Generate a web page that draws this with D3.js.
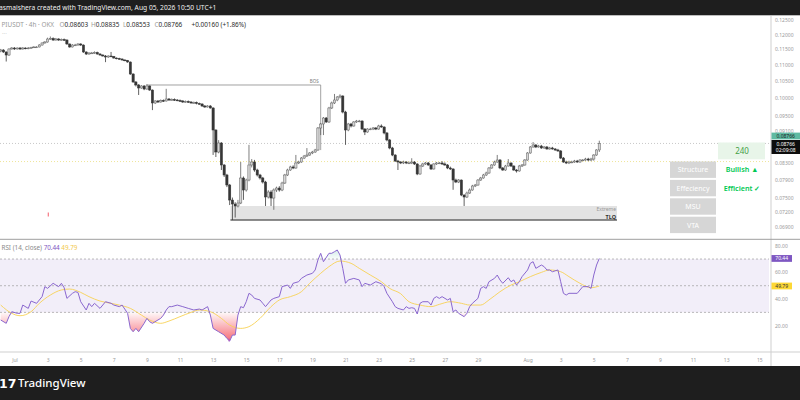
<!DOCTYPE html>
<html><head><meta charset="utf-8">
<script src="https://cdn.jsdelivr.net/npm/d3@7"></script>
<style>
body{margin:0;background:#fff;overflow:hidden}
svg{display:block;font-family:"Noto Sans",sans-serif}
</style></head><body>
<svg id="chart" width="800" height="400"></svg>
<script>
// PIUSDT 4h candles, first one Jun 30 04:00, open of each = previous close
const firstOpen = 0.1144;
const closes = [
0.11475,0.11409,0.11310,0.11508,0.11541,0.11508,0.11541,0.11508,0.11541,0.11525,
0.11541,0.11558,0.11575,0.11575,0.11641,0.11709,0.11742,0.11844,0.11862,0.11810,
0.11844,0.11810,0.11827,0.11810,0.11675,0.11575,0.11641,0.11641,0.11675,0.11641,
0.11409,0.11343,0.11376,0.11376,0.11392,0.11343,0.11310,0.11278,0.11245,0.11278,
0.11262,0.11213,0.11197,0.11181,0.11149,0.11133,0.11085,0.10708,0.10464,0.10374,
0.10285,0.10344,0.10255,0.10344,0.10225,0.09850,0.09907,0.09878,0.09921,0.09907,
0.09964,0.09935,0.09950,0.09935,0.09921,0.09907,0.09878,0.09892,0.09878,0.09850,
0.09864,0.09836,0.09821,0.09765,0.09737,0.09765,0.09709,0.09112,0.08552,0.08777,
0.08238,0.08004,0.07776,0.07447,0.07362,0.07320,0.07383,0.07935,0.07665,0.07889,
0.08238,0.08309,0.08120,0.08004,0.07935,0.07844,0.07512,0.07621,0.07490,0.07665,
0.07709,0.07665,0.07821,0.08004,0.08120,0.08191,0.08167,0.08286,0.08309,0.08405,
0.08454,0.08478,0.08528,0.08552,0.08602,0.09165,0.09271,0.09432,0.09325,0.09709,
0.09850,0.09935,0.10021,0.10050,0.09597,0.09112,0.09271,0.09218,0.09325,0.09351,
0.09351,0.09138,0.09060,0.09138,0.09138,0.09165,0.09138,0.09218,0.09191,0.09034,
0.08853,0.08652,0.08478,0.08333,0.08309,0.08286,0.08309,0.08286,0.08286,0.08309,
0.08262,0.08027,0.08214,0.08262,0.08286,0.08238,0.08144,0.08262,0.08286,0.08286,
0.08262,0.08238,0.08167,0.08144,0.07889,0.07844,0.07889,0.07555,0.07512,0.07599,
0.07665,0.07754,0.07776,0.07889,0.07935,0.08004,0.08050,0.08167,0.08238,0.08309,
0.08357,0.08167,0.08120,0.08214,0.08286,0.08214,0.08120,0.08097,0.08214,0.08238,
0.08357,0.08528,0.08677,0.08726,0.08677,0.08701,0.08652,0.08677,0.08627,0.08652,
0.08627,0.08602,0.08577,0.08405,0.08309,0.08286,0.08309,0.08309,0.08333,0.08309,
0.08357,0.08357,0.08381,0.08357,0.08381,0.08478,0.08603,0.08766];
const highs = [
.1151,.1150,.1143,.1153,.1157,.1157,.1156,.1157,.1157,.1156,
.1157,.1158,.1160,.1160,.1167,.1173,.1177,.1189,.1193,.1190,
.1188,.1187,.1186,.1186,.1183,.1169,.1167,.1168,.1170,.1170,
.1166,.1143,.1140,.1141,.1143,.1142,.1137,.1133,.1131,.1130,
.1141,.1128,.1123,.1122,.1120,.1117,.1115,.1110,.1073,.1049,
.1040,.1037,.1037,.1040,.1036,.1024,.0993,.0993,.0995,.0995,
.1026,.0999,.0998,.0998,.0996,.0995,.0993,.0992,.0992,.0990,
.0989,.0989,.0986,.0984,.0979,.0979,.0979,.0973,.0913,.0885,
.0880,.0826,.0803,.0780,.0750,.0740,.0745,.0831,.0797,.0792,
.0873,.0838,.0836,.0815,.0803,.0796,.0787,.0766,.0766,.0770,
.0774,.0775,.0785,.0803,.0815,.0822,.0823,.0848,.0834,.0843,
.0848,.0865,.0855,.0858,.0863,.0919,.0930,.0946,.0946,.0974,
.0989,.1011,.1005,.1010,.1007,.0963,.0930,.0930,.0935,.0938,
.0938,.0937,.0916,.0916,.0917,.0919,.0919,.0925,.0926,.0921,
.0906,.0888,.0868,.0850,.0836,.0833,.0834,.0833,.0832,.0840,
.0833,.0828,.0824,.0829,.0831,.0831,.0826,.0828,.0831,.0831,
.0833,.0830,.0826,.0820,.0816,.0792,.0791,.0790,.0757,.0763,
.0770,.0778,.0780,.0791,.0796,.0803,.0808,.0819,.0826,.0834,
.0848,.0838,.0819,.0824,.0838,.0830,.0823,.0814,.0824,.0826,
.0838,.0855,.0870,.0880,.0875,.0873,.0873,.0870,.0870,.0868,
.0868,.0865,.0863,.0860,.0843,.0834,.0834,.0834,.0836,.0836,
.0838,.0838,.0841,.0841,.0841,.0850,.0862,.08835];
const lows = [
.1140,.1138,.1110,.1128,.1149,.1148,.1149,.1148,.1149,.1150,
.1150,.1152,.1154,.1155,.1156,.1162,.1169,.1172,.1182,.1178,
.1179,.1178,.1179,.1178,.1165,.1155,.1156,.1161,.1162,.1161,
.1138,.1131,.1132,.1135,.1135,.1132,.1129,.1126,.1108,.1122,
.1124,.1119,.1117,.1116,.1113,.1111,.1106,.1068,.1044,.1033,
.1008,.1026,.1022,.1023,.1020,.0965,.0982,.0985,.0986,.0988,
.0989,.0991,.0992,.0991,.0990,.0988,.0985,.0986,.0985,.0983,
.0983,.0981,.0980,.0974,.0971,.0972,.0969,.0848,.0843,.0852,
.0812,.0796,.0773,.0734,.0703,.0708,.0729,.0736,.0745,.0763,
.0786,.0818,.0808,.0797,.0790,.0781,.0732,.0748,.0732,.0724,
.0762,.0763,.0764,.0780,.0798,.0810,.0814,.0815,.0826,.0829,
.0838,.0843,.0846,.0850,.0853,.0858,.0898,.0898,.0930,.0930,
.0968,.0982,.0990,.0998,.0956,.0873,.0908,.0918,.0920,.0930,
.0932,.0911,.0898,.0904,.0911,.0911,.0911,.0912,.0917,.0900,
.0882,.0862,.0845,.0831,.0812,.0826,.0826,.0826,.0826,.0826,
.0824,.0800,.0801,.0819,.0824,.0822,.0812,.0813,.0824,.0826,
.0824,.0822,.0814,.0812,.0767,.0782,.0782,.0753,.0732,.0749,
.0758,.0765,.0773,.0776,.0787,.0792,.0798,.0803,.0815,.0822,
.0829,.0814,.0810,.0810,.0820,.0819,.0810,.0806,.0808,.0819,
.0822,.0834,.0851,.0866,.0865,.0866,.0863,.0863,.0861,.0861,
.0861,.0858,.0856,.0838,.0829,.0826,.0826,.0828,.0829,.0829,
.0829,.0833,.0834,.0833,.0833,.0834,.0846,.08553];

// RSI(14) read at candle indexes
const rsiIdx = [0,2,3,4,6,7,8,10,11,13,15,16,17,19,20,21,22,23,24,26,27,28,29,31,32,33,34,36,38,40,
41,43,44,46,47,48,49,50,52,53,54,55,57,58,59,60,61,62,64,66,68,70,72,73,75,76,77,79,81,82,
83,84,85,86,87,88,89,90,91,92,94,95,96,98,99,101,102,104,105,106,108,109,111,113,114,115,116,117,119,120,
121,122,123,124,125,126,128,130,131,132,134,136,138,139,140,142,143,144,146,147,148,149,150,151,152,153,155,156,157,158,
159,160,162,163,164,165,166,168,169,170,171,173,174,175,176,177,179,180,181,182,184,185,186,187,188,189,191,192,193,194,
196,197,198,199,200,202,203,204,205,206,209,210,211,213,214,215,216,217];
const rsiVal = [24.3,21.8,26.8,30.5,29.3,29.3,35.5,33,38.5,36.8,41.8,49.3,48,51.8,50.5,49.3,51.8,48.5,40.5,44.3,45.5,45,38,31.8,36.8,34.3,36.8,33,38,36.8,
35.5,34.3,35.5,29.3,18,15.5,18,15.5,21.8,25.5,23,21.8,24.3,25.5,28,31.8,34.3,34.3,35.5,34.3,33,31.8,32.5,31.8,34.3,28,18,15.5,13,10.5,
8.5,13,13,28,34.3,33.5,38,44.3,43,40.5,39.3,36.8,34.3,39.3,40.5,41.8,49.3,50.5,48,51.8,53,55.5,58,59.3,61.8,69.3,74.3,68,74.3,74.3,
75.5,76.8,73,63,51.8,54.3,55.5,54.3,49.3,51.8,50.5,53,51.5,49.3,44.3,38,34.3,33,31.8,34.3,33,33.5,33,28.8,36.8,38,38,35.5,40.5,41.8,
40.5,41.8,39.3,40.5,30.5,31.8,29.3,26.8,29.3,34.3,36.8,40.5,48,49.3,48,53,55.5,58,54.3,51.8,56,53,54.3,50.5,53,56.8,61.8,66.8,68,63,
65.5,64.3,61.8,61.8,60.5,61.8,53,44.3,43,44.3,44.3,46.8,49.3,49.3,48,58,65.5,70.44];
// RSI-based MA read at candle indexes
const maIdx = [0,4,7,11,14,18,22,25,29,32,36,40,43,47,51,54,58,61,65,69,72,76,80,83,87,90,94,98,101,105,
109,112,116,119,123,127,130,134,138,141,145,148,152,156,159,163,167,170,174,177,181,185,188,192,196,199,203,206,210,214,217];
const maVal = [35.5,29.3,27.5,30.5,36.8,43,46.8,47.5,45,41.8,38.5,36.8,35.5,33,28,24.3,21.8,23.5,26.8,30,31.8,30.5,25.5,20.5,18,19.3,25.5,34.3,39.3,41.8,
45.5,51.8,59.3,64.3,68.5,66.8,63,58,53,48,44,38,35.5,34.3,36,38,36.8,35.5,35.5,39.3,45.5,50.5,53,56.8,60,61.8,60.5,56.8,51.8,48.5,49.79];

const priceTicks = [0.125,0.12,0.115,0.11,0.105,0.10,0.095,0.091,0.083,0.079,0.075,0.072,0.069];
const rsiTicks = [20,40,60,80];
const tickDates = ['2026-07-01','2026-07-03','2026-07-05','2026-07-07','2026-07-09','2026-07-11','2026-07-13','2026-07-15',
'2026-07-17','2026-07-19','2026-07-21','2026-07-23','2026-07-25','2026-07-27','2026-07-29','2026-08-01','2026-08-03',
'2026-08-05','2026-08-07','2026-08-09','2026-08-11','2026-08-13','2026-08-15'];
const tickLabels = ['Jul','3','5','7','9','11','13','15','17','19','21','23','25','27','29','Aug','3','5','7','9','11','13','15'];

const bosLevel = 0.10374, bosFrom = 53, bosTo = 116, bosDrop = 0.0860;
const zoneTop = 0.0732, zoneBottom = 0.0703, zoneFrom = 84, zoneEnd = '2026-08-06T09:40Z';
const lastPrice = 0.08766, yellowLevel = 0.0832;
const tableRows = ['Structure','Effeciency','MSU','VTA'];
const tableVals = ['Bullish ▲','Efficient ✓','',''];

const H4 = 4*3600*1000, T0 = Date.UTC(2026,5,30,4);
const tOf = i => new Date(T0 + i*H4);
const candles = closes.map((c,i)=>({t:tOf(i), o:i?closes[i-1]:firstOpen, h:highs[i], l:lows[i], c}));

const svg = d3.select('#chart');
const x = d3.scaleUtc().domain([new Date('2026-07-01T00:00Z'), new Date('2026-08-15T00:00Z')]).range([14.5, 759.3]);
const y = d3.scaleLog().domain([0.069, 0.125]).range([226.5, 20.3]);
const yR = d3.scaleLinear().domain([0, 80]).range([352.4, 245.7]);
const W = 771;

svg.append('rect').attr('width',800).attr('height',400).attr('fill','#fff');
const defs = svg.append('defs');
defs.append('clipPath').attr('id','pc').append('rect').attr('x',0).attr('y',15.5).attr('width',W).attr('height',223);
defs.append('clipPath').attr('id','below').append('rect').attr('x',0).attr('y',yR(30)).attr('width',W).attr('height',352-yR(30));
defs.append('clipPath').attr('id','above').append('rect').attr('x',0).attr('y',240).attr('width',W).attr('height',yR(70)-240);
const gr = defs.append('linearGradient').attr('id','rg').attr('gradientUnits','userSpaceOnUse')
  .attr('x1',0).attr('x2',0).attr('y1',yR(30)).attr('y2',yR(8));
gr.append('stop').attr('offset',0).attr('stop-color','#f23645').attr('stop-opacity',0.03);
gr.append('stop').attr('offset',1).attr('stop-color','#f23645').attr('stop-opacity',0.75);
const gg = defs.append('linearGradient').attr('id','gg').attr('gradientUnits','userSpaceOnUse')
  .attr('x1',0).attr('x2',0).attr('y1',yR(70)).attr('y2',yR(80));
gg.append('stop').attr('offset',0).attr('stop-color','#089981').attr('stop-opacity',0.02);
gg.append('stop').attr('offset',1).attr('stop-color','#089981').attr('stop-opacity',0.25);

// frame lines
svg.append('line').attr('x1',W).attr('x2',W).attr('y1',15).attr('y2',366).attr('stroke','#cfcfcf');
[[15.5,'#bdbdbd'],[239.3,'#9e9e9e'],[352,'#cfcfcf']].forEach(([yy,c])=>
  svg.append('line').attr('x1',0).attr('x2',800).attr('y1',yy).attr('y2',yy).attr('stroke',c));

// price pane
const pane = svg.append('g').attr('clip-path','url(#pc)');
pane.append('line').attr('x1',0).attr('x2',W).attr('y1',y(lastPrice)).attr('y2',y(lastPrice))
  .attr('stroke','#c8c8c8').attr('stroke-dasharray','1,2');
pane.append('line').attr('x1',0).attr('x2',W).attr('y1',y(yellowLevel)).attr('y2',y(yellowLevel))
  .attr('stroke','#efe59a').attr('stroke-dasharray','1,2');

pane.append('rect').attr('x',x(tOf(zoneFrom))-2).attr('y',y(zoneTop))
  .attr('width',x(new Date(zoneEnd))-x(tOf(zoneFrom))+2).attr('height',y(zoneBottom)-y(zoneTop)).attr('fill','#e3e3e3');
pane.append('line').attr('x1',x(tOf(zoneFrom))-2).attr('x2',x(new Date(zoneEnd))).attr('y1',y(zoneBottom)).attr('y2',y(zoneBottom))
  .attr('stroke','#222').attr('stroke-width',1);
pane.append('text').attr('x',x(new Date(zoneEnd))-1).attr('y',y(zoneTop)+5).attr('text-anchor','end')
  .attr('font-size',5).attr('fill','#999').text('Extreme');
pane.append('text').attr('x',x(new Date(zoneEnd))-1).attr('y',y(zoneBottom)-1.5).attr('text-anchor','end')
  .attr('font-size',5.5).attr('font-weight','bold').attr('fill','#333').text('TLQ');

pane.append('path').attr('fill','none').attr('stroke','#8a8a8a').attr('stroke-width',0.8)
  .attr('d',`M${x(tOf(bosFrom))},${y(bosLevel)}H${x(tOf(bosTo))}V${y(bosDrop)}`);
pane.append('text').attr('x',x(tOf(bosTo))-2).attr('y',y(bosLevel)-2).attr('text-anchor','end')
  .attr('font-size',4.5).attr('fill','#777').text('BOS');

const bw = (x(tOf(1))-x(tOf(0)))*0.82;
const cg = pane.append('g');
cg.selectAll('.wick').data(candles).enter().append('line')
  .attr('x1',d=>x(d.t)).attr('x2',d=>x(d.t)).attr('y1',d=>y(d.h)).attr('y2',d=>y(d.l))
  .attr('stroke',d=>d.c>=d.o?'#5e5e5e':'#3a3a3a').attr('stroke-width',0.8);
cg.selectAll('.body').data(candles).enter().append('rect')
  .attr('x',d=>x(d.t)-bw/2).attr('width',bw)
  .attr('y',d=>y(Math.max(d.o,d.c))).attr('height',d=>Math.max(0.8,y(Math.min(d.o,d.c))-y(Math.max(d.o,d.c))))
  .attr('fill',d=>d.c>=d.o?'#d6d6d6':'#363636').attr('stroke',d=>d.c>=d.o?'#5e5e5e':'#363636').attr('stroke-width',0.5);

svg.append('rect').attr('x',47.8).attr('y',212.5).attr('width',0.8).attr('height',4).attr('fill','#f23645');

// table
svg.append('rect').attr('x',718).attr('y',142.5).attr('width',47).attr('height',16.8).attr('fill','#e8f5e9');
svg.append('text').attr('x',742).attr('y',154).attr('text-anchor','middle').attr('font-size',8).attr('fill','#43a047').text('240');
tableRows.forEach((r,i)=>{
  const ty = 161.5 + i*18.4;
  svg.append('rect').attr('x',670).attr('y',ty).attr('width',46).attr('height',16.4).attr('fill','#d6d6d6');
  svg.append('text').attr('x',693).attr('y',ty+10.9).attr('text-anchor','middle').attr('font-size',7).attr('fill','#fff').text(r);
  if (tableVals[i]) svg.append('text').attr('x',742).attr('y',ty+10.9).attr('text-anchor','middle')
    .attr('font-size',7.2).attr('font-weight','600').attr('fill','#00c853').text(tableVals[i]);
});

// price axis
const pa = svg.append('g').attr('transform','translate(775,0)')
  .call(d3.axisRight(y).tickValues(priceTicks).tickFormat(d3.format('.5f')).tickSize(0));
pa.select('.domain').remove();
pa.selectAll('text').attr('x',0).attr('font-size',5).attr('fill','#9a9a9a').attr('font-family','Noto Sans');
svg.append('rect').attr('x',771.5).attr('y',132.6).attr('width',28.5).attr('height',6.8).attr('fill','#5fbaa2');
svg.append('text').attr('x',785.7).attr('y',137.8).attr('text-anchor','middle').attr('font-size',5).attr('fill','#1b1b1b').text('0.08766');
svg.append('rect').attr('x',771.5).attr('y',140).attr('width',28.5).attr('height',14).attr('fill','#0d0d0d');
svg.append('text').attr('x',785.7).attr('y',145.5).attr('text-anchor','middle').attr('font-size',5).attr('fill','#fff').text(d3.format('.5f')(lastPrice));
svg.append('text').attr('x',785.7).attr('y',152).attr('text-anchor','middle').attr('font-size',5).attr('fill','#fff').text('02:09:08');

// RSI pane
svg.append('rect').attr('x',0).attr('y',yR(70)).attr('width',W-2).attr('height',yR(30)-yR(70)).attr('fill','#7e57c2').attr('fill-opacity',0.1);
[70,50,30].forEach(v=>svg.append('line').attr('x1',0).attr('x2',W-2).attr('y1',yR(v)).attr('y2',yR(v))
  .attr('stroke','#9e9e9e').attr('stroke-dasharray','2,2').attr('stroke-width',0.7));
const rsi = rsiIdx.map((i,k)=>({t:tOf(i), v:rsiVal[k]}));
const ma = maIdx.map((i,k)=>({t:tOf(i), v:maVal[k]}));
svg.append('path').datum(rsi).attr('clip-path','url(#below)').attr('fill','url(#rg)')
  .attr('d',d3.area().x(d=>x(d.t)).y0(yR(30)).y1(d=>yR(d.v)));
svg.append('path').datum(rsi).attr('clip-path','url(#above)').attr('fill','url(#gg)')
  .attr('d',d3.area().x(d=>x(d.t)).y0(yR(70)).y1(d=>yR(d.v)));
svg.append('path').datum(ma).attr('fill','none').attr('stroke','#f7d154').attr('stroke-width',0.9)
  .attr('d',d3.line().x(d=>x(d.t)).y(d=>yR(d.v)).curve(d3.curveMonotoneX));
svg.append('path').datum(rsi).attr('fill','none').attr('stroke','#8a67cf').attr('stroke-width',1)
  .attr('d',d3.line().x(d=>x(d.t)).y(d=>yR(d.v)));
svg.append('rect').attr('x',228.6).attr('y',338.5).attr('width',0.8).attr('height',3).attr('fill','#b04fc0');

const ra = svg.append('g').attr('transform','translate(775,0)')
  .call(d3.axisRight(yR).tickValues(rsiTicks).tickFormat(d3.format('.2f')).tickSize(0));
ra.select('.domain').remove();
ra.selectAll('text').attr('x',0).attr('font-size',5).attr('fill','#9a9a9a').attr('font-family','Noto Sans');
svg.append('rect').attr('x',771.5).attr('y',yR(70.44)-3.4).attr('width',20.5).attr('height',6.8).attr('fill','#7e57c2');
svg.append('text').attr('x',781.7).attr('y',yR(70.44)+1.8).attr('text-anchor','middle').attr('font-size',5).attr('fill','#fff').text('70.44');
svg.append('rect').attr('x',771.5).attr('y',yR(49.79)-3.4).attr('width',20.5).attr('height',6.8).attr('fill','#fdd835');
svg.append('text').attr('x',781.7).attr('y',yR(49.79)+1.8).attr('text-anchor','middle').attr('font-size',5).attr('fill','#333').text('49.79');

const rl = svg.append('text').attr('x',1.5).attr('y',250).attr('font-size',6.3);
rl.append('tspan').attr('fill','#8a8a8a').text('RSI (14, close) ');
rl.append('tspan').attr('fill','#7e57c2').text('70.44 ');
rl.append('tspan').attr('fill','#f2c94c').text('49.79');

// time axis
const xa = svg.append('g').attr('transform','translate(0,352)')
  .call(d3.axisBottom(x).tickValues(tickDates.map(s=>new Date(s+'T00:00Z'))).tickFormat((d,i)=>tickLabels[i]).tickSize(0));
xa.select('.domain').remove();
xa.selectAll('text').attr('dy',7).attr('font-size',5).attr('fill','#9a9a9a').attr('font-family','Noto Sans');

// header
svg.append('rect').attr('width',800).attr('height',15).attr('fill','#1e1e1e');
svg.append('text').attr('x',-1).attr('y',10.2).attr('font-size',6.7).attr('fill','#f0f0f0')
  .text('asmaishera created with TradingView.com, Aug 05, 2026 10:50 UTC+1');
svg.append('text').attr('x',1.5).attr('y',26.8).attr('font-size',6.4).attr('fill','#9a9a9a').text('PIUSDT · 4h · OKX');
[['O','0.08603',59.5],['H','0.08835',91],['L','0.08553',123],['C','0.08766',154.5]].forEach(([k,v,px])=>{
  const t = svg.append('text').attr('x',px).attr('y',26.8).attr('font-size',6.4);
  t.append('tspan').attr('fill','#9a9a9a').text(k);
  t.append('tspan').attr('fill','#2a2a2a').text(v);
});
svg.append('text').attr('x',191.5).attr('y',26.8).attr('font-size',6.4).attr('fill','#2a2a2a').text('+0.00160 (+1.86%)');
svg.append('text').attr('x',2).attr('y',35).attr('font-size',6).attr('fill','#aaa').text('···');

// footer
svg.append('rect').attr('y',366).attr('width',800).attr('height',34).attr('fill','#1e1e1e');
svg.append('text').attr('x',-1).attr('y',387.5).attr('font-size',12.5).attr('font-weight','900').attr('fill','#fff')
  .attr('font-family','DejaVu Sans').text('17');
svg.append('text').attr('x',18).attr('y',387).attr('font-size',11.5).attr('font-weight','500').attr('fill','#fff').text('TradingView');
</script>
</body></html>
